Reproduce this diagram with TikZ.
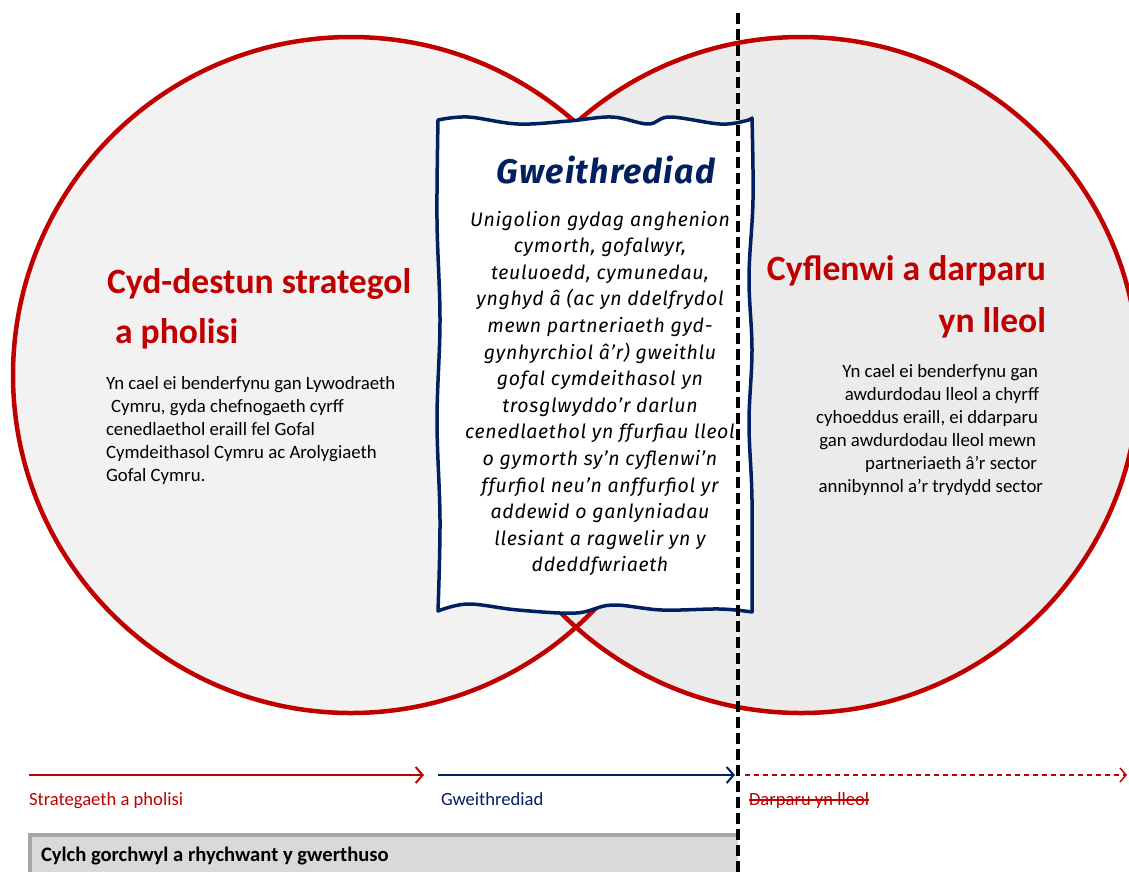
\documentclass[tikz,border=0pt]{standalone}
\usepackage{fontspec}
\setmainfont{Carlito}
\newfontfamily\handfont{Fira Sans}[LetterSpace=3.5]
\usetikzlibrary{arrows.meta}
\definecolor{wred}{HTML}{C00000}
\definecolor{wnavy}{HTML}{002060}
\definecolor{fillL}{HTML}{F2F2F2}
\definecolor{fillR}{HTML}{EBEBEB}
\definecolor{barfill}{HTML}{D9D9D9}
\definecolor{barline}{HTML}{A6A6A6}
\tikzset{
  circ/.style={draw=wred, line width=4.5pt},
  txt/.style={inner sep=0pt, outer sep=0pt},
  headtxt/.style={txt, text=wred, font=\fontsize{35.6}{40}\selectfont\bfseries},
  bodytxt/.style={txt, text=black, font=\fontsize{18.8}{23}\selectfont},
  handtxt/.style={txt, text=black, font=\handfont\itshape\fontsize{19.5}{26}\selectfont},
  labtxt/.style={txt, font=\fontsize{18.6}{20}\selectfont},
  flow/.style={line width=2.5pt, -{Straight Barb[length=7pt,width=16pt,line width=2pt]}},
}
\begin{document}
\begin{tikzpicture}[x=1pt,y=-1pt]
\useasboundingbox (0,0) rectangle (1129,871);
\clip (0,0) rectangle (1129,871);
\fill[white] (0,0) rectangle (1129,871);
% circles
\coordinate (cL) at (351,375);
\coordinate (cR) at (801,375);
\fill[fillL] (cL) circle[radius=338pt];
\fill[fillR] (cR) circle[radius=338pt];
\draw[circ] (cL) circle[radius=338pt];
\draw[circ] (cR) circle[radius=338pt];
% left texts
\node[headtxt, anchor=base west] (hl1) at (107,293) {Cyd-destun strategol};
\node[headtxt, anchor=base west] (hl2) at (115,343) {a pholisi};
\foreach \t [count=\i] in {{Yn cael ei benderfynu gan Lywodraeth},{\hspace{5pt}Cymru, gyda chefnogaeth cyrff},{cenedlaethol eraill fel Gofal},{Cymdeithasol Cymru ac Arolygiaeth},{Gofal Cymru.}}
  \node[bodytxt, anchor=base west] (bl\i) at (106,{389+23*(\i-1)}) {\t};
% right texts
\node[headtxt, anchor=base east] (hr1) at (1046,280) {Cyflenwi a darparu};
\node[headtxt, anchor=base east] (hr2) at (1046,332) {yn lleol};
\foreach \t/\xx [count=\i] in {{Yn cael ei benderfynu gan}/1038,{awdurdodau lleol a chyrff}/1039,{cyhoeddus eraill, ei ddarparu}/1038,{gan awdurdodau lleol mewn}/1036,{partneriaeth â’r sector}/1037,{annibynnol a’r trydydd sector}/1043}
  \node[bodytxt, anchor=base east] (br\i) at (\xx,{377+23*(\i-1)}) {\t};
% scroll
\draw[wnavy, line width=3.5pt, fill=white, line join=round]
  plot[smooth, tension=0.6] coordinates {(438,120) (468,117) (518,124) (569,121) (612,117) (648,124) (670,117) (720,124) (745,121) (752,118)}
  -- plot[smooth, tension=0.6] coordinates {(752,118) (753,200) (749,277) (752,350) (749,423) (752,500) (752,612)}
  -- plot[smooth, tension=0.6] coordinates {(752,612) (720,609) (662,610) (612,605) (576,613) (518,610) (468,604) (438,611)}
  -- plot[smooth, tension=0.6] coordinates {(438,611) (440,520) (437,420) (440,320) (437,220) (438,120)}
  -- cycle;
\node[txt, text=wnavy, anchor=base, font=\handfont\itshape\bfseries\fontsize{34}{40}\selectfont] (title) at (606,183) {Gweithrediad};
\foreach \t [count=\i] in {{Unigolion gydag anghenion},{cymorth, gofalwyr,},{teuluoedd, cymunedau,},{ynghyd â (ac yn ddelfrydol},{mewn partneriaeth gyd-},{gynhyrchiol â’r) gweithlu},{gofal cymdeithasol yn},{trosglwyddo’r darlun},{cenedlaethol yn ffurfiau lleol},{o gymorth sy’n cyflenwi’n},{ffurfiol neu’n anffurfiol yr},{addewid o ganlyniadau},{llesiant a ragwelir yn y},{ddeddfwriaeth}}
  \node[handtxt, anchor=base] (s\i) at (600,{226+26.6*(\i-1)}) {\t};
% bottom flow arrows
\coordinate (a0) at (29,775);
\coordinate (a1) at (424,775);
\coordinate (b0) at (438,775);
\coordinate (b1) at (735,775);
\coordinate (c0) at (745,775);
\coordinate (c1) at (1127,775);
\draw[flow, wred] (a0) -- (a1);
\draw[flow, wnavy] (b0) -- (b1);
\draw[wred, line width=1.5pt, dash pattern=on 5pt off 4pt, -{Straight Barb[length=6pt,width=14pt,line width=1.5pt]}] (c0) -- (c1);
\node[labtxt, text=wred, anchor=base west] (la) at (29,805) {Strategaeth a pholisi};
\node[labtxt, text=wnavy, anchor=base west] (lb) at (441,805) {Gweithrediad};
\node[labtxt, text=wred, anchor=base west] (lc) at (749,805) {Darparu yn lleol};
\draw[wred, line width=1.3pt] ([yshift=5pt]lc.base west) -- ([yshift=5pt]lc.base east);
% bottom bar
\fill[barfill] (29,834) rectangle (738,875);
\draw[barline, line width=3.5pt] (30,875) -- (30,835) -- (738,835);
\node[txt, anchor=base west, font=\fontsize{20.6}{22}\selectfont\bfseries] (bar) at (41,861) {Cylch gorchwyl a rhychwant y gwerthuso};
% dashed divider
\coordinate (d0) at (738,13);
\coordinate (d1) at (738,875);
\draw[black, line width=3.5pt, dash pattern=on 11pt off 5pt] (d0) -- (d1);
\end{tikzpicture}
\end{document}
